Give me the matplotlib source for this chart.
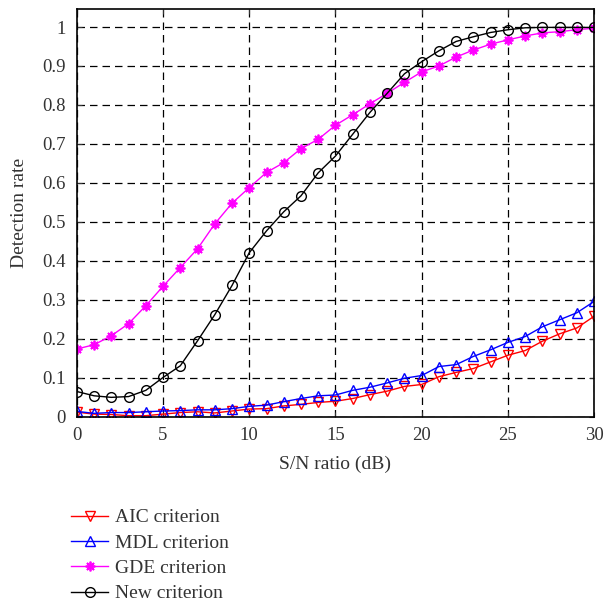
import numpy as np
import matplotlib.pyplot as plt

plt.rcParams['font.family'] = ['Liberation Serif', 'DejaVu Serif']

snr = np.arange(0, 31)

aic = [0.012, 0.007, 0.006, 0.003, 0.003, 0.007, 0.011, 0.013, 0.010, 0.015,
       0.020, 0.021, 0.028, 0.032, 0.037, 0.040, 0.047, 0.057, 0.066, 0.078,
       0.083, 0.103, 0.114, 0.124, 0.141, 0.158, 0.170, 0.194, 0.213, 0.228,
       0.258]
mdl = [0.014, 0.009, 0.011, 0.011, 0.013, 0.015, 0.016, 0.018, 0.018, 0.021,
       0.027, 0.030, 0.039, 0.047, 0.054, 0.056, 0.068, 0.076, 0.087, 0.099,
       0.106, 0.129, 0.134, 0.155, 0.172, 0.191, 0.206, 0.231, 0.249, 0.267,
       0.296]
gde = [0.174, 0.185, 0.208, 0.239, 0.285, 0.335, 0.383, 0.431, 0.495, 0.548,
       0.588, 0.627, 0.652, 0.688, 0.712, 0.748, 0.775, 0.803, 0.830, 0.858,
       0.885, 0.900, 0.923, 0.941, 0.956, 0.967, 0.977, 0.985, 0.988, 0.993,
       0.997]
new = [0.065, 0.054, 0.050, 0.052, 0.068, 0.101, 0.131, 0.195, 0.262, 0.337,
       0.421, 0.477, 0.526, 0.567, 0.626, 0.669, 0.725, 0.781, 0.830, 0.880,
       0.911, 0.939, 0.963, 0.975, 0.986, 0.993, 0.998, 0.999, 0.999, 0.999,
       0.999]

fig = plt.figure(figsize=(6.05, 6.05), dpi=100)
ax = fig.add_axes([0.127, 0.311, 0.855, 0.674])

ax.plot(snr, aic, color='red', marker='v', mfc='none', ms=7, lw=1, label='AIC criterion')
ax.plot(snr, mdl, color='blue', marker='^', mfc='none', ms=7, lw=1, label='MDL criterion')
ax.plot(snr, gde, color='magenta', marker=(8, 2, 0), ms=7, mew=1.3, lw=1, label='GDE criterion')
ax.plot(snr, new, color='black', marker='o', mfc='none', ms=7, lw=1, label='New criterion')

ax.set_xlim(0, 30)
ax.set_ylim(0, 1.046)
ax.set_xticks(np.arange(0, 31, 5))
ax.set_yticks(np.arange(0, 1.01, 0.1))
ax.set_yticklabels(['0', '0.1', '0.2', '0.3', '0.4', '0.5', '0.6', '0.7', '0.8', '0.9', '1'])
ax.tick_params(direction='in', labelsize=13.5, top=True, right=True, pad=7,
               colors='#333333', labelcolor='#333333')
ax.tick_params(axis='y', pad=8)
for s in ax.spines.values():
    s.set_linewidth(1.2)
ax.grid(True, color='black', linestyle=(0, (6, 4)), linewidth=0.9)
ax.set_xlabel('S/N ratio (dB)', fontsize=14, color='#333333', labelpad=9)
ax.set_ylabel('Detection rate', fontsize=14, color='#333333', labelpad=10)

fig.legend(loc='upper left', bbox_to_anchor=(0.105, 0.172), frameon=False,
           fontsize=14, handlelength=1.9, handletextpad=0.35, labelspacing=0.4,
           borderaxespad=0, labelcolor='#333333')

fig.savefig('out.png', dpi=100)
